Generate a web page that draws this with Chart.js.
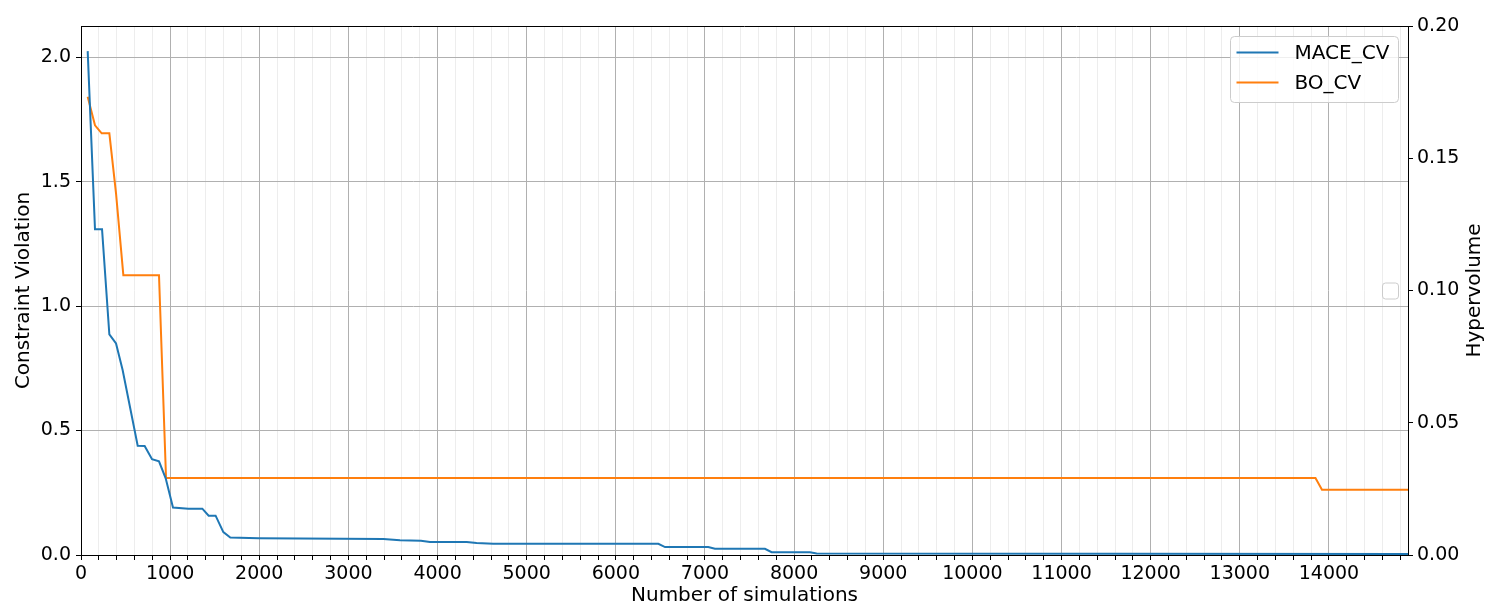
<!DOCTYPE html>
<html>
<head>
<meta charset="utf-8">
<script src="https://cdn.jsdelivr.net/npm/chart.js@4.4.1/dist/chart.umd.min.js"></script>
<style>
  html, body { margin: 0; padding: 0; background: #fff; }
  #wrap { width: 1491px; height: 612px; }
</style>
</head>
<body>
<div id="wrap"><canvas id="myChart" width="1491" height="612"></canvas></div>
<script>
// values
var maceX = [75, 157, 236, 318, 393, 467, 636, 714, 797, 875, 950, 1032, 1204, 1361, 1432, 1510, 1597, 1675, 1993, 3392, 3579, 3814, 3915, 4327, 4438, 4625, 6477, 6552, 7037, 7112, 7673, 7748, 8178, 8253, 14887];
var maceY = [2.024, 1.309, 1.309, 0.886, 0.850, 0.743, 0.439, 0.438, 0.385, 0.376, 0.308, 0.191, 0.186, 0.186, 0.158, 0.158, 0.092, 0.070, 0.067, 0.064, 0.059, 0.0575, 0.052, 0.052, 0.048, 0.045, 0.045, 0.032, 0.032, 0.025, 0.025, 0.011, 0.011, 0.006, 0.004];
var boX = [75, 157, 232, 318, 393, 475, 875, 954, 13849, 13922, 14887];
var boY = [1.841, 1.726, 1.694, 1.694, 1.453, 1.124, 1.124, 0.309, 0.309, 0.262, 0.262];
var seriesNames = ['MACE_CV', 'BO_CV'];
var xMax = 14887;
var yMax = 2.125;
var y2Max = 0.2;

var FONT = 'DejaVu Sans';
var BLUE = '#1f77b4', ORANGE = '#ff7f0e';

function pts(xs, ys) {
    return xs.map(function (x, i) { return {x: x, y: ys[i]}; });
}

// frame top line, legend box, empty legend of the right axis, right axis title
var extras = {
    id: 'extras',
    afterDraw: function (chart) {
        var ctx = chart.ctx, a = chart.chartArea;
        ctx.save();
        ctx.strokeStyle = '#000';
        ctx.lineWidth = 1;
        ctx.beginPath();
        ctx.moveTo(a.left, a.top + 0.5);
        ctx.lineTo(a.right, a.top + 0.5);
        ctx.stroke();

        // legend
        var bw = 168, bh = 66;
        var bx = a.right - 10 - bw + 0.5, by = a.top + 10 + 0.5;
        ctx.fillStyle = 'rgba(255,255,255,0.8)';
        ctx.strokeStyle = '#cccccc';
        ctx.beginPath();
        ctx.roundRect(bx, by, bw, bh, 4);
        ctx.fill();
        ctx.stroke();
        ctx.font = '20px "' + FONT + '"';
        ctx.textBaseline = 'middle';
        chart.data.datasets.forEach(function (ds, i) {
            var ly = by + 16 + i * 30;
            ctx.strokeStyle = ds.borderColor;
            ctx.lineWidth = 2;
            ctx.beginPath();
            ctx.moveTo(bx + 6, ly);
            ctx.lineTo(bx + 48, ly);
            ctx.stroke();
            ctx.fillStyle = '#000';
            ctx.fillText(ds.label, bx + 64, ly + 1);
        });

        // empty legend (right axis has no lines)
        ctx.fillStyle = 'rgba(255,255,255,0.8)';
        ctx.strokeStyle = '#cccccc';
        ctx.lineWidth = 1;
        ctx.beginPath();
        ctx.roundRect(a.right - 10 - 16 + 0.5, (a.top + a.bottom) / 2 - 8 + 0.5, 16, 16, 3);
        ctx.fill();
        ctx.stroke();

        // right axis title, read bottom to top
        ctx.translate(chart.width - 16, (a.top + a.bottom) / 2);
        ctx.rotate(-Math.PI / 2);
        ctx.fillStyle = '#000';
        ctx.textAlign = 'center';
        ctx.textBaseline = 'middle';
        ctx.font = '20px "' + FONT + '"';
        ctx.fillText('Hypervolume', 0, 0);
        ctx.restore();
    }
};

var ctx = document.getElementById('myChart').getContext('2d');
var myChart = new Chart(ctx, {
    type: 'line',
    data: {
        datasets: [{
            label: seriesNames[0],
            data: pts(maceX, maceY),
            borderColor: BLUE,
            backgroundColor: BLUE,
            borderWidth: 2,
            pointRadius: 0,
            tension: 0,
            yAxisID: 'y'
        }, {
            label: seriesNames[1],
            data: pts(boX, boY),
            borderColor: ORANGE,
            backgroundColor: ORANGE,
            borderWidth: 2,
            pointRadius: 0,
            tension: 0,
            yAxisID: 'y'
        }]
    },
    options: {
        responsive: false,
        animation: false,
        layout: {padding: {top: 26, left: 0, right: 0, bottom: 0}},
        plugins: {legend: {display: false}, tooltip: {enabled: false}},
        scales: {
            x: {
                type: 'linear',
                min: 0,
                max: xMax,
                afterFit: function (s) { s.height = 57; },
                border: {color: '#000', width: 1},
                grid: {
                    color: function (c) { return c.tick && c.tick.value % 1000 === 0 ? '#b0b0b0' : '#ededed'; },
                    tickColor: '#000',
                    tickLength: 5
                },
                ticks: {
                    stepSize: 200,
                    autoSkip: false,
                    includeBounds: false,
                    maxRotation: 0,
                    padding: 3,
                    color: '#000',
                    font: {family: FONT, size: 19},
                    callback: function (v) { return v % 1000 === 0 ? String(v) : ''; }
                },
                title: {display: true, text: 'Number of simulations', color: '#000',
                        font: {family: FONT, size: 20}, padding: {top: 4, bottom: 4}}
            },
            y: {
                position: 'left',
                min: 0,
                max: yMax,
                afterFit: function (s) { s.width = 81; },
                border: {color: '#000', width: 1},
                grid: {color: '#b0b0b0', tickColor: '#000', tickLength: 5},
                ticks: {
                    stepSize: 0.5,
                    includeBounds: false,
                    padding: 5,
                    color: '#000',
                    font: {family: FONT, size: 19},
                    callback: function (v) { return v.toFixed(1); }
                },
                title: {display: true, text: 'Constraint Violation', color: '#000',
                        font: {family: FONT, size: 20}, padding: {top: 12, bottom: 4}}
            },
            y2: {
                position: 'right',
                min: 0,
                max: y2Max,
                afterFit: function (s) { s.width = 83; },
                border: {color: '#000', width: 1},
                grid: {drawOnChartArea: false, tickColor: '#000', tickLength: 5},
                ticks: {
                    stepSize: 0.05,
                    padding: 4,
                    color: '#000',
                    font: {family: FONT, size: 19},
                    callback: function (v) { return v.toFixed(2); }
                },
                title: {display: false}
            }
        }
    },
    plugins: [extras]
});
</script>
</body>
</html>
